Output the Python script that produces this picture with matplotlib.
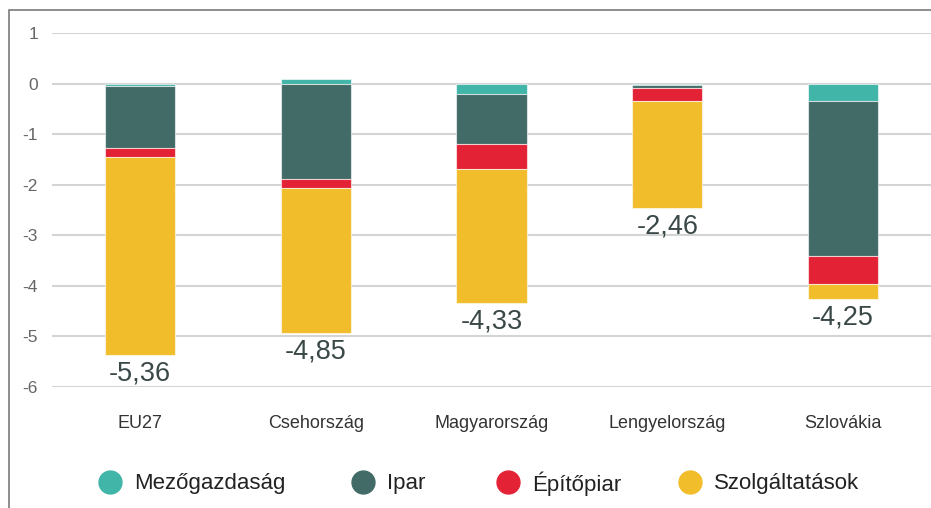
import matplotlib.pyplot as plt
import numpy as np
from matplotlib.patches import Rectangle

plt.rcParams["font.family"] = ["Liberation Sans", "DejaVu Sans"]

countries = ["EU27", "Csehország", "Magyarország", "Lengyelország", "Szlovákia"]
sectors = ["Mezőgazdaság", "Ipar", "Építőpiar", "Szolgáltatások"]
colors = ["#40b5a8", "#426b67", "#e32236", "#f1bd2b"]

mezogazdasag = [-0.04, 0.09, -0.21, -0.02, -0.34]
ipar = [-1.24, -1.88, -0.98, -0.07, -3.07]
epitoipar = [-0.18, -0.18, -0.50, -0.25, -0.55]
szolgaltatas = [-3.90, -2.88, -2.64, -2.12, -0.29]
total_labels = ["-5,36", "-4,85", "-4,33", "-2,46", "-4,25"]

W, H = 931, 508
fig = plt.figure(figsize=(W / 100, H / 100), dpi=100)

# outer frame (only left and top visible in the crop)
fig.patches.append(Rectangle((9 / W, -0.1), 1.2, 1 - 10 / H + 0.1,
                             transform=fig.transFigure, fill=False,
                             edgecolor="#7a7a7a", lw=1.2))

ax = fig.add_axes([52 / W, 1 - 387 / H, 1 - 52 / W, (387 - 33) / H])
x = np.arange(len(countries))
width = 0.40

pos_base = np.zeros(len(countries))
neg_base = np.zeros(len(countries))
for vals, col in zip([mezogazdasag, ipar, epitoipar, szolgaltatas], colors):
    v = np.array(vals)
    base = np.where(v >= 0, pos_base, neg_base)
    ax.bar(x, v, width, bottom=base, color=col,
           edgecolor=(1, 1, 1, 0.6), linewidth=0.8, zorder=3)
    pos_base += np.where(v >= 0, v, 0)
    neg_base += np.where(v < 0, v, 0)

for xi, lo, lab in zip(x, neg_base, total_labels):
    ax.annotate(lab, (xi, lo), xytext=(0, -4), textcoords="offset points",
                ha="center", va="top", fontsize=19.5, color="#3b4848")

ax.set_xlim(-0.5, 4.5)
ax.set_ylim(-6, 1)
ax.set_yticks(range(-6, 2))
ax.set_yticklabels([str(t) for t in range(-6, 2)])
ax.yaxis.grid(True, color="#d4d4d4", lw=1.5, zorder=0)
ax.set_axisbelow(True)
for s in ax.spines.values():
    s.set_visible(False)
ax.tick_params(axis="y", length=0, pad=10, labelsize=12.5, labelcolor="#666666")
ax.set_xticks(x)
ax.set_xticklabels(countries)
ax.tick_params(axis="x", length=0, pad=20, labelsize=13, labelcolor="#333333")

# legend: circle + label, laid out like the original
legend_x = [110, 363, 508, 690]
legend_y = 1 - 482 / H
for lx, name, col in zip(legend_x, sectors, colors):
    fig.lines.append(plt.Line2D([lx / W], [legend_y], marker="o", ls="none",
                                markersize=16.5, markerfacecolor=col,
                                markeredgecolor=col, transform=fig.transFigure))
    fig.text((lx + 24) / W, legend_y - 2 / H, name, ha="left", va="center",
             fontsize=16, color="#222222")

fig.savefig("out.png", dpi=100)
